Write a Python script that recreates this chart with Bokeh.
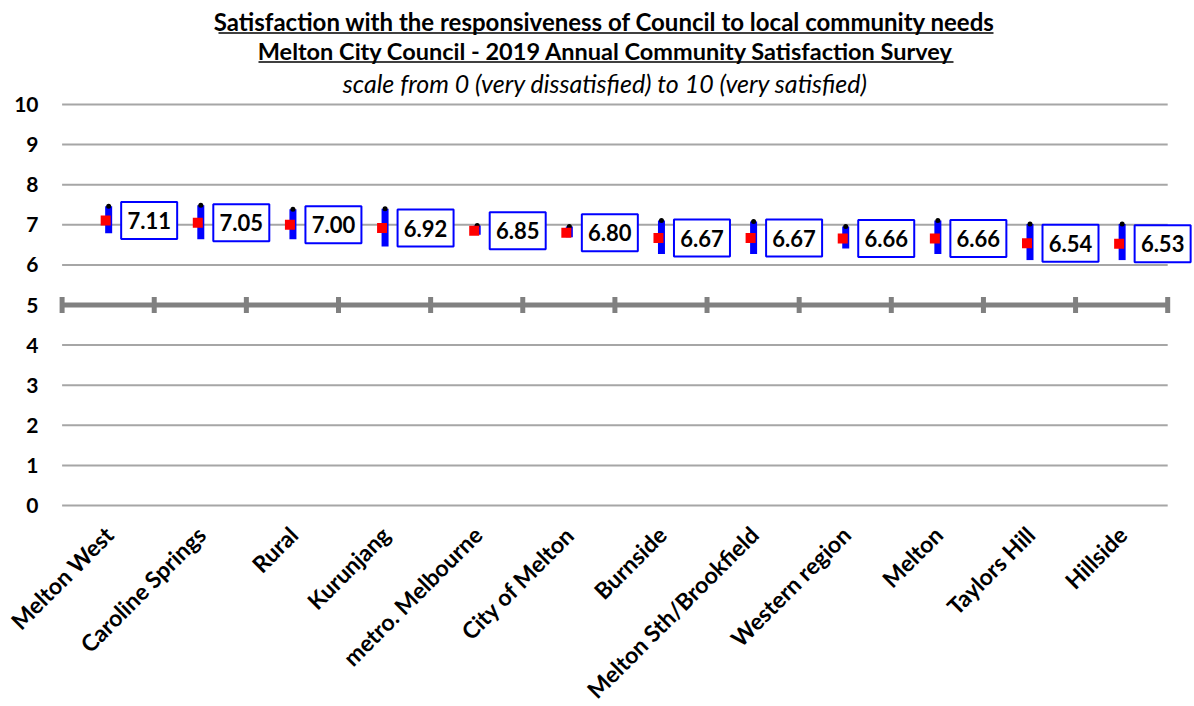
import numpy as np
from bokeh.plotting import figure
from bokeh.models import ColumnDataSource, BoxAnnotation, Range1d
from bokeh.core.properties import value
from bokeh.embed import file_html
from bokeh.resources import INLINE

# Survey results: mean satisfaction with 95% confidence interval per area
areas = ["Melton West", "Caroline Springs", "Rural", "Kurunjang", "metro. Melbourne",
         "City of Melton", "Burnside", "Melton Sth/Brookfield", "Western region",
         "Melton", "Taylors Hill", "Hillside"]
means = [7.11, 7.05, 7.00, 6.92, 6.85, 6.80, 6.67, 6.67, 6.66, 6.66, 6.54, 6.53]
upper = [7.46, 7.49, 7.39, 7.40, 6.98, 6.96, 7.11, 7.08, 6.96, 7.11, 7.02, 7.02]
lower = [6.79, 6.64, 6.64, 6.46, 6.75, 6.69, 6.27, 6.27, 6.41, 6.27, 6.12, 6.12]
y_ticks = [0, 1, 2, 3, 4, 5, 6, 7, 8, 9, 10]
cross_level = 5  # category axis crosses the value axis here

title_1 = "Satisfaction  with the responsiveness of Council to local community needs"
title_2 = "Melton City Council  - 2019 Annual Community Satisfaction  Survey"
subtitle = "scale from 0 (very dissatisfied) to 10 (very satisfied)"

FONT = "Lato"
W, H = 1194, 706

# The plotting frame fills the whole canvas; the value scale maps 0..10 onto
# pixel rows 505..104 and the 12 categories onto pixel columns 61.6..1167.
PLOT_LEFT, PLOT_RIGHT = 61.6, 1167.2
PLOT_TOP, PLOT_BOTTOM = 104.0, 505.0
n = len(areas)
px_x = (PLOT_RIGHT - PLOT_LEFT) / n
px_y = (PLOT_BOTTOM - PLOT_TOP) / (y_ticks[-1] - y_ticks[0])
X0 = -PLOT_LEFT / px_x
X1 = X0 + W / px_x
Y0 = y_ticks[0] - (H - PLOT_BOTTOM) / px_y
Y1 = Y0 + H / px_y

centers = np.arange(n) + 0.5
src = ColumnDataSource(dict(
    bar_x=centers + 0.5 / px_x,
    mean_x=centers - 2.5 / px_x,
    box_x=centers + 41 / px_x,
    name_x=centers + 1 / px_x,
    mean=means, upper=upper, lower=lower,
    label=[f"{m:.2f}" for m in means],
    name=areas,
))

p = figure(width=W, height=H, x_range=Range1d(X0, X1), y_range=Range1d(Y0, Y1),
           output_backend="svg", toolbar_location=None,
           x_axis_location=None, y_axis_location=None,
           min_border_left=0, min_border_right=0, min_border_top=0, min_border_bottom=0)
p.outline_line_color = None
p.grid.visible = False
p.background_fill_color = "white"
p.border_fill_color = "white"

# horizontal gridlines
p.segment(x0=0, x1=n, y0=y_ticks, y1=y_ticks, line_color="#a6a6a6", line_width=2)

# category axis drawn at the crossing level, with ticks between categories
bounds = np.arange(n + 1)
p.segment(x0=0, x1=n, y0=cross_level, y1=cross_level, line_color="#808080", line_width=5)
p.segment(x0=bounds, x1=bounds, y0=cross_level - 8 / px_y, y1=cross_level + 8 / px_y,
          line_color="#808080", line_width=5)

# confidence interval bars, high markers and means
p.vbar(x="bar_x", width=7 / px_x, bottom="lower", top="upper", source=src,
       fill_color="#0000ff", line_color=None)
p.scatter(x="bar_x", y="upper", source=src, marker="circle", size=5,
          fill_color="black", line_color=None)
p.scatter(x="mean_x", y="mean", source=src, marker="square", size=10,
          fill_color="#ff0000", line_color=None)

# value labels in boxes
p.rect(x="box_x", y="mean", width=56, height=37, width_units="screen", height_units="screen",
       source=src, fill_color="white", line_color="#0000ff", line_width=2)
p.text(x="box_x", y="mean", text="label", source=src, text_align="center",
       text_baseline="middle", text_font=value(FONT), text_font_style="bold",
       text_font_size="22px", text_color="black")

# value axis labels
p.text(x=X0 + 38 / px_x, y=y_ticks, text=[str(t) for t in y_ticks],
       text_align="right", text_baseline="middle", text_font=value(FONT),
       text_font_style="bold", text_font_size="21px", text_color="black")

# category labels, slanted at 45 degrees below the plot
p.text(x="name_x", y=y_ticks[0] - 25 / px_y, text="name", source=src, angle=np.pi / 4,
       text_align="right", text_baseline="middle", text_font=value(FONT),
       text_font_style="bold", text_font_size="23px", text_color="black")

# titles (rows are pixel offsets from the top edge, columns are centres)
for txt, col, row, style, size in [(title_1, 607, 21, "bold", "24px"),
                                   (title_2, 611, 50, "bold", "23.5px"),
                                   (subtitle, 605, 82, "italic", "25px")]:
    p.text(x=[X0 + col / px_x], y=[Y1 - row / px_y], text=[txt], text_align="center",
           text_baseline="alphabetic", text_font=value(FONT), text_font_style=style,
           text_font_size=size, text_color="black")

# title underlines (screen units count from the frame's lower-left corner)
for l, r, row in [(218, 993, 32.5), (258, 953, 61.5)]:
    p.add_layout(BoxAnnotation(left=l, right=r, top=H - row + 0.8, bottom=H - row - 0.8,
                               left_units="screen", right_units="screen",
                               top_units="screen", bottom_units="screen",
                               fill_color="black", fill_alpha=1, line_color=None))

open("out.html", "w").write(file_html(p, INLINE))
